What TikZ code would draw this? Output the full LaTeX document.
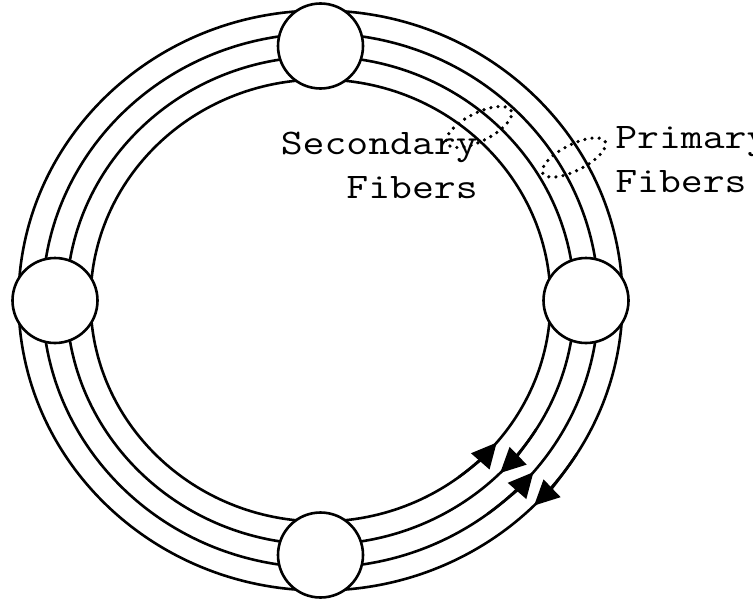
\documentclass[tikz,border=0pt]{standalone}
\usepackage{fontspec}
\newfontfamily\machine{Latin Modern Mono}[FakeStretch=1.18]
\usetikzlibrary{arrows.meta}

\begin{document}
\begin{tikzpicture}[x=.5pt, y=.5pt, line width=1.3pt,
	station/.style={circle, draw, fill=white, inner sep=0pt, minimum size=42.5pt},
	fleche/.style={-{Triangle[length=12.5pt,width=12pt]}},
	faisceau/.style={line width=1.8pt, dash pattern=on 0pt off 3.6pt, line cap=round},
	etiquette/.style={font=\machine\fontsize{18}{21.8}\selectfont, inner sep=0pt}]
	%\draw[help lines,step=50] (0,0) grid (753,601);
	\useasboundingbox (0,0) rectangle (753,601);
	\coordinate (O) at (320.5,300.5);
	% les quatre anneaux
	\draw (O) ellipse [x radius=302, y radius=290];
	\draw (O) ellipse [x radius=278, y radius=267];
	\draw (O) ellipse [x radius=254, y radius=244];
	\draw (O) ellipse [x radius=230, y radius=221];
	% sens de parcours
	\draw[fleche] (O) ++(-32:302 and 290) arc[start angle=-32, end angle=-45, x radius=302, y radius=290];
	\draw[fleche] (O) ++(-53:278 and 267) arc[start angle=-53, end angle=-40, x radius=278, y radius=267];
	\draw[fleche] (O) ++(-32:254 and 244) arc[start angle=-32, end angle=-45, x radius=254, y radius=244];
	\draw[fleche] (O) ++(-53:230 and 221) arc[start angle=-53, end angle=-40, x radius=230, y radius=221];
	% les noeuds
	\path
		(O) +(90:265.5 and 254.5)  node[station] (N) {}
		(O) +(180:265.5 and 254.5) node[station] (W) {}
		(O) +(0:265.5 and 254.5)   node[station] (E) {}
		(O) +(270:265.5 and 254.5) node[station] (S) {}
	;
	% legendes (base = derniere ligne)
	\node[etiquette, align=right, anchor=base east] (sec) at (479,403) {Secondary\\Fibers};
	\node[etiquette, align=left, anchor=base west] (prim) at (614,409) {Primary\\Fibers};
	\draw[faisceau, shift={(479,474)}, rotate=27] (0,0) ellipse [x radius=36, y radius=14];
	\draw[faisceau, shift={(574,443.5)}, rotate=27] (0,0) ellipse [x radius=35, y radius=13];
\end{tikzpicture}
\end{document}
